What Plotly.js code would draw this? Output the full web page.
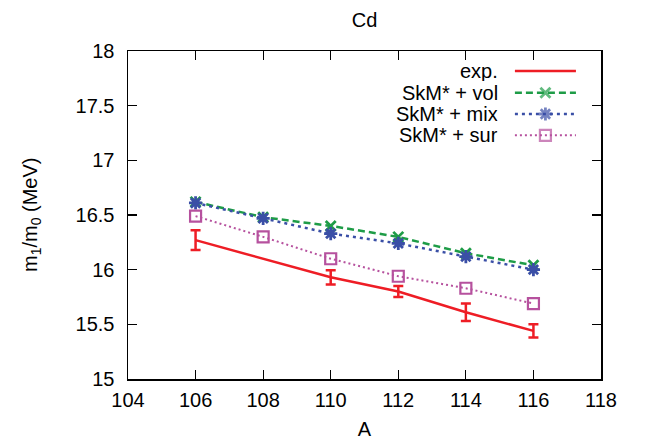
<!DOCTYPE html>
<html>
<head>
<meta charset="utf-8">
<script src="https://cdn.plot.ly/plotly-3.0.1.min.js"></script>
<style>html,body{margin:0;padding:0;background:#fff;}#chart{width:647px;height:440px;}</style>
</head>
<body>
<div id="chart"></div>
<script>
// ---- data ----
const A_exp = [106, 110, 112, 114, 116];
const exp_vals = [16.27, 15.93, 15.80, 15.61, 15.44];
const exp_err = [0.09, 0.065, 0.05, 0.08, 0.06];

const A_th = [106, 108, 110, 112, 114, 116];
const vol_vals = [16.62, 16.48, 16.40, 16.30, 16.15, 16.04];
const mix_vals = [16.61, 16.47, 16.33, 16.24, 16.12, 16.00];
const sur_vals = [16.49, 16.30, 16.10, 15.94, 15.83, 15.69];

const series_names = ['exp.', 'SkM* + vol', 'SkM* + mix', 'SkM* + sur'];
const x_ticks = [104, 106, 108, 110, 112, 114, 116, 118];
const y_ticks = [15, 15.5, 16, 16.5, 17, 17.5, 18];

// ---- styles ----
const FONT = '"Liberation Sans", Arial, Helvetica, sans-serif';
const RED = '#ee1d25', GREEN = '#1e9c47', BLUE = '#3a4fa6', PURPLE = '#b6519e';
const styles = [
  {line: {color: RED, width: 2.5, dash: 'solid'}, marker: null},
  {line: {color: GREEN, width: 2.5, dash: '7px,4px'}, marker: {symbol: 'x-thin-open', size: 10, color: GREEN, line: {color: GREEN, width: 2.8}}},
  {line: {color: BLUE, width: 2.5, dash: '3px,4px'}, marker: {symbol: 'asterisk-open', size: 11, color: BLUE, line: {color: BLUE, width: 2.8}}},
  {line: {color: PURPLE, width: 2, dash: '2px,3px'}, marker: {symbol: 'square-open', size: 11, color: PURPLE, line: {color: PURPLE, width: 2.2}}}
];

const traces = [
  {x: A_exp, y: exp_vals, type: 'scatter', mode: 'lines', name: series_names[0],
   line: styles[0].line,
   error_y: {type: 'data', array: exp_err, visible: true, color: RED, thickness: 2.5, width: 5}},
  {x: A_th, y: vol_vals, type: 'scatter', mode: 'lines+markers', name: series_names[1], line: styles[1].line, marker: styles[1].marker},
  {x: A_th, y: mix_vals, type: 'scatter', mode: 'lines+markers', name: series_names[2], line: styles[2].line, marker: styles[2].marker},
  {x: A_th, y: sur_vals, type: 'scatter', mode: 'lines+markers', name: series_names[3], line: styles[3].line, marker: styles[3].marker}
];

// ---- gnuplot-style legend key (text right, sample on the right) ----
const keyRows = [0.939, 0.873, 0.808, 0.743];
const keyX0 = 0.818, keyX1 = 0.947, keyTextX = 0.786;
const annotations = [];
series_names.forEach((nm, i) => {
  const st = styles[i];
  const t = {x: [keyX0, (keyX0 + keyX1) / 2, keyX1], y: [keyRows[i], keyRows[i], keyRows[i]],
    xaxis: 'x2', yaxis: 'y2', type: 'scatter', mode: st.marker ? 'lines+markers' : 'lines',
    line: st.line, showlegend: false, hoverinfo: 'skip'};
  if (st.marker) t.marker = Object.assign({}, st.marker, {size: [0, st.marker.size, 0]});
  traces.push(t);
  annotations.push({xref: 'paper', yref: 'paper', x: keyTextX, y: keyRows[i], xanchor: 'right', yanchor: 'middle',
    height: 20, valign: 'middle',
    text: nm, showarrow: false, font: {family: FONT, size: 20, color: '#000'}});
});
// y-axis title placed as rotated text left of the tick labels
annotations.push({xref: 'paper', yref: 'paper', x: (31 - 128) / 473, y: 0.5, xanchor: 'center', yanchor: 'middle',
  textangle: -90, showarrow: false, text: 'm<sub>1</sub>/m<sub>0</sub> (MeV)',
  font: {family: FONT, size: 20, color: '#000'}});

const axisCommon = {
  showline: true, linecolor: '#000', linewidth: 1.5, mirror: 'ticks',
  ticks: 'inside', ticklen: 9, tickwidth: 1.2, tickcolor: '#000',
  showgrid: false, zeroline: false,
  tickfont: {family: FONT, size: 20, color: '#000'}
};

const layout = {
  width: 647, height: 440,
  margin: {l: 128, r: 46, t: 51, b: 61},
  paper_bgcolor: '#fff', plot_bgcolor: '#fff',
  showlegend: false,
  font: {family: FONT, size: 20, color: '#000'},
  title: {text: 'Cd', font: {family: FONT, size: 20, color: '#000'}, x: 0.5, xref: 'paper', y: 1 - 20 / 440, yref: 'container', yanchor: 'middle'},
  xaxis: Object.assign({}, axisCommon, {range: [104, 118], tickmode: 'array', tickvals: x_ticks, ticktext: x_ticks.map(String),
    ticklabelstandoff: 2,
    title: {text: 'A', font: {family: FONT, size: 20, color: '#000'}, standoff: 14}}),
  yaxis: Object.assign({}, axisCommon, {range: [15, 18], tickmode: 'array', tickvals: y_ticks, ticktext: y_ticks.map(String),
    ticklabelstandoff: 8}),
  xaxis2: {overlaying: 'x', range: [0, 1], visible: false, fixedrange: true},
  yaxis2: {overlaying: 'y', range: [0, 1], visible: false, fixedrange: true},
  annotations: annotations
};

Plotly.newPlot('chart', traces, layout, {staticPlot: true, displayModeBar: false});
</script>
</body>
</html>
